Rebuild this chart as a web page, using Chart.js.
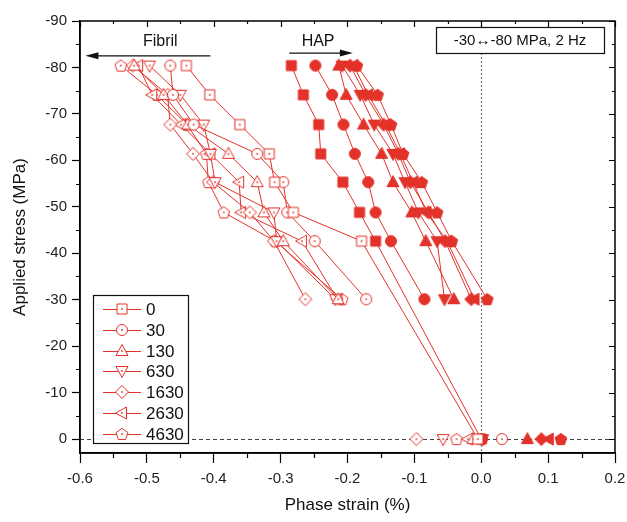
<!DOCTYPE html>
<html>
<head>
<meta charset="utf-8">
<script src="https://cdn.jsdelivr.net/npm/chart.js@4/dist/chart.umd.min.js"></script>
<style>
  html, body { margin: 0; padding: 0; background: #fff; }
  #chart { display: block; }
</style>
</head>
<body>
<canvas id="chart" width="627" height="522"></canvas>
<script>
// stress levels of the loading steps (MPa)
const stressLevels = [-80.4, -74.1, -67.7, -61.4, -55.3, -48.8, -42.6, -30.1];
const cycleLabels = ['0', '30', '130', '630', '1630', '2630', '4630'];

// fibril phase strain (%) at each stress level, one array per cycle count
const fibril0    = [-0.441, -0.406, -0.361, -0.317, -0.309, -0.281, -0.179, null];
const fibril30   = [-0.465, -0.461, -0.430, -0.335, -0.296, -0.290, -0.249, -0.172];
const fibril130  = [-0.519, -0.475, -0.439, -0.378, -0.335, -0.325, -0.296, -0.214];
const fibril630  = [-0.496, -0.450, -0.415, -0.405, -0.398, -0.310, -0.306, -0.218];
const fibril1630 = [-0.521, -0.469, -0.465, -0.431, -0.401, -0.346, -0.310, -0.263];
const fibril2630 = [-0.513, -0.492, -0.449, -0.405, -0.362, -0.359, -0.268, -0.215];
const fibril4630 = [-0.539, -0.485, -0.440, -0.411, -0.408, -0.385, -0.308, -0.208];

// HAP phase strain (%)
const hap0    = [-0.284, -0.266, -0.243, -0.240, -0.207, -0.182, -0.158, null];
const hap30   = [-0.248, -0.223, -0.206, -0.189, -0.169, -0.158, -0.135, -0.085];
const hap130  = [-0.213, -0.202, -0.176, -0.149, -0.132, -0.104, -0.083, -0.041];
const hap630  = [-0.208, -0.181, -0.160, -0.132, -0.114, -0.094, -0.066, -0.055];
const hap1630 = [-0.196, -0.173, -0.146, -0.124, -0.106, -0.079, -0.054, -0.015];
const hap2630 = [-0.191, -0.169, -0.143, -0.121, -0.102, -0.082, -0.051, -0.010];
const hap4630 = [-0.186, -0.155, -0.135, -0.117, -0.089, -0.066, -0.044, 0.009];

// strain at zero applied stress
const fibrilUnloaded = [-0.005, 0.031, -0.012, -0.057, -0.097, -0.020, -0.037];
const hapUnloaded    = [0.000, 0.001, 0.069, 0.002, 0.090, 0.101, 0.119];

const xTickValues = [-0.6, -0.55, -0.5, -0.45, -0.4, -0.35, -0.3, -0.25, -0.2, -0.15, -0.1, -0.05, 0, 0.05, 0.1, 0.15, 0.2];
const yTickValues = [-90, -85, -80, -75, -70, -65, -60, -55, -50, -45, -40, -35, -30, -25, -20, -15, -10, -5, 0];

const fibrilSeries = [fibril0, fibril30, fibril130, fibril630, fibril1630, fibril2630, fibril4630];
const hapSeries = [hap0, hap30, hap130, hap630, hap1630, hap2630, hap4630];
const shapes = ['square', 'circle', 'triUp', 'triDown', 'diamond', 'triLeft', 'pentagon'];

const RED = '#e2322a';
const FONT = '"Liberation Sans", Arial, sans-serif';

function shapePath(ctx, shape) {
    ctx.beginPath();
    if (shape == 'square') {
        ctx.rect(-5, -5, 10, 10);
    } else if (shape == 'circle') {
        ctx.arc(0, 0, 5.5, 0, Math.PI * 2);
    } else if (shape == 'triUp') {
        ctx.moveTo(0, -6.5); ctx.lineTo(6, 4.5); ctx.lineTo(-6, 4.5); ctx.closePath();
    } else if (shape == 'triDown') {
        ctx.moveTo(0, 6.5); ctx.lineTo(6, -4.5); ctx.lineTo(-6, -4.5); ctx.closePath();
    } else if (shape == 'diamond') {
        ctx.moveTo(0, -6.5); ctx.lineTo(6.5, 0); ctx.lineTo(0, 6.5); ctx.lineTo(-6.5, 0); ctx.closePath();
    } else if (shape == 'triLeft') {
        ctx.moveTo(-6.5, 0); ctx.lineTo(4.5, -6); ctx.lineTo(4.5, 6); ctx.closePath();
    } else if (shape == 'pentagon') {
        for (let k = 0; k < 5; k++) {
            let a = -Math.PI / 2 + k * 2 * Math.PI / 5;
            let px = 6.2 * Math.cos(a), py = 6.2 * Math.sin(a) + 0.5;
            if (k == 0) ctx.moveTo(px, py); else ctx.lineTo(px, py);
        }
        ctx.closePath();
    }
}

function makeMarker(shape, filled) {
    const c = document.createElement('canvas');
    c.width = 16; c.height = 16;
    const ctx = c.getContext('2d');
    ctx.translate(8, 8);
    shapePath(ctx, shape);
    if (filled) {
        ctx.fillStyle = RED;
        ctx.fill();
        ctx.strokeStyle = RED;
        ctx.lineWidth = 1;
        ctx.stroke();
    } else {
        ctx.fillStyle = '#fff';
        ctx.fill();
        ctx.strokeStyle = RED;
        ctx.lineWidth = 1;
        ctx.stroke();
        ctx.fillStyle = RED;
        ctx.fillRect(-0.8, -0.8, 1.6, 1.6);
    }
    return c;
}

const openMarkers = shapes.map(s => makeMarker(s, false));
const filledMarkers = shapes.map(s => makeMarker(s, true));

function buildPoints(values, unloaded, connectZero) {
    let pts = [];
    values.forEach((v, i) => {
        if (v !== null) pts.push({ x: v, y: stressLevels[i] });
    });
    if (!connectZero) pts.push({ x: unloaded, y: null });
    pts.push({ x: unloaded, y: 0 });
    return pts;
}

let datasets = [];
fibrilSeries.forEach((vals, i) => {
    datasets.push({
        label: cycleLabels[i],
        data: buildPoints(vals, fibrilUnloaded[i], i == 0),
        borderColor: RED,
        borderWidth: 1,
        pointStyle: openMarkers[i],
        spanGaps: false
    });
});
hapSeries.forEach((vals, i) => {
    datasets.push({
        label: cycleLabels[i] + ' HAP',
        data: buildPoints(vals, hapUnloaded[i], i == 0),
        borderColor: RED,
        borderWidth: 1,
        pointStyle: filledMarkers[i],
        spanGaps: false
    });
});

function isMajorX(v) { return Math.abs(v * 10 - Math.round(v * 10)) < 1e-6; }
function isMajorY(v) { return Math.abs(v % 10) < 1e-6; }

function drawArrow(ctx, x1, y1, x2, y2) {
    ctx.save();
    ctx.strokeStyle = '#111';
    ctx.fillStyle = '#111';
    ctx.lineWidth = 1.3;
    const dir = Math.sign(x2 - x1);
    ctx.beginPath();
    ctx.moveTo(x1, y1);
    ctx.lineTo(x2 - dir * 10, y2);
    ctx.stroke();
    ctx.beginPath();
    ctx.moveTo(x2, y2);
    ctx.lineTo(x2 - dir * 13, y2 - 3.5);
    ctx.lineTo(x2 - dir * 13, y2 + 3.5);
    ctx.closePath();
    ctx.fill();
    ctx.restore();
}

const decorPlugin = {
    id: 'decor',
    beforeDatasetsDraw(chart) {
        const ctx = chart.ctx;
        const area = chart.chartArea;
        const xs = chart.scales.x, ys = chart.scales.y;
        ctx.save();
        // vertical dotted line at zero strain
        ctx.strokeStyle = '#777';
        ctx.lineWidth = 1.2;
        ctx.setLineDash([2, 2]);
        let x0 = Math.round(xs.getPixelForValue(0)) + 0.5;
        ctx.beginPath();
        ctx.moveTo(x0, area.top);
        ctx.lineTo(x0, area.bottom);
        ctx.stroke();
        // horizontal dashed line at zero stress
        ctx.strokeStyle = '#444';
        ctx.lineWidth = 1;
        ctx.setLineDash([4, 3]);
        let y0 = Math.round(ys.getPixelForValue(0)) + 0.5;
        ctx.beginPath();
        ctx.moveTo(area.left, y0);
        ctx.lineTo(area.right, y0);
        ctx.stroke();
        ctx.restore();
    },
    afterDraw(chart) {
        const ctx = chart.ctx;
        const area = chart.chartArea;
        const xs = chart.scales.x, ys = chart.scales.y;
        ctx.save();
        // frame
        ctx.strokeStyle = '#000';
        ctx.lineWidth = 1.5;
        ctx.strokeRect(area.left, area.top, area.right - area.left, area.bottom - area.top);

        // minor ticks outside, and ticks inside on top / right
        ctx.lineWidth = 1.2;
        ctx.beginPath();
        xTickValues.forEach(v => {
            const px = Math.round(xs.getPixelForValue(v)) + 0.5;
            if (!isMajorX(v)) {
                ctx.moveTo(px, area.bottom); ctx.lineTo(px, area.bottom + 5);
            }
            const len = isMajorX(v) ? 6 : 3;
            ctx.moveTo(px, area.top); ctx.lineTo(px, area.top + len);
        });
        yTickValues.forEach(v => {
            const py = Math.round(ys.getPixelForValue(v)) + 0.5;
            if (!isMajorY(v)) {
                ctx.moveTo(area.left, py); ctx.lineTo(area.left - 4, py);
            }
            const len = isMajorY(v) ? 6 : 3;
            ctx.moveTo(area.right, py); ctx.lineTo(area.right - len, py);
        });
        ctx.stroke();

        // annotations
        ctx.fillStyle = '#111';
        ctx.font = '16px ' + FONT;
        ctx.textAlign = 'center';
        ctx.textBaseline = 'middle';
        ctx.fillText('Fibril', xs.getPixelForValue(-0.48), ys.getPixelForValue(-85.5));
        drawArrow(ctx, xs.getPixelForValue(-0.405), ys.getPixelForValue(-82.5), xs.getPixelForValue(-0.592), ys.getPixelForValue(-82.5));
        ctx.fillText('HAP', xs.getPixelForValue(-0.244), ys.getPixelForValue(-85.5));
        drawArrow(ctx, xs.getPixelForValue(-0.287), ys.getPixelForValue(-83.1), xs.getPixelForValue(-0.192), ys.getPixelForValue(-83.1));

        // condition box
        const bw = 168, bh = 26;
        const bx = area.right - 11 - bw, by = area.top + 6;
        ctx.fillStyle = '#fff';
        ctx.fillRect(bx, by, bw, bh);
        ctx.strokeStyle = '#111';
        ctx.lineWidth = 1.2;
        ctx.strokeRect(bx + 0.5, by + 0.5, bw, bh);
        ctx.fillStyle = '#111';
        ctx.font = '15px ' + FONT;
        ctx.fillText('-30\u2194-80 MPa, 2 Hz', bx + bw / 2, by + bh / 2 + 1);

        // legend
        const lx = area.left + 13, ly = area.top + 274, lw = 95, lh = 148;
        ctx.fillStyle = '#fff';
        ctx.fillRect(lx, ly, lw, lh);
        ctx.strokeStyle = '#111';
        ctx.lineWidth = 1.2;
        ctx.strokeRect(lx + 0.5, ly + 0.5, lw, lh);
        ctx.font = '17px ' + FONT;
        ctx.textAlign = 'left';
        cycleLabels.forEach((lab, i) => {
            const yy = Math.round(ly + 14 + i * 20.8) + 0.5;
            ctx.strokeStyle = RED;
            ctx.lineWidth = 1;
            ctx.beginPath();
            ctx.moveTo(lx + 10, yy);
            ctx.lineTo(lx + 48, yy);
            ctx.stroke();
            ctx.drawImage(openMarkers[i], lx + 29 - 8, yy - 8.5);
            ctx.fillStyle = '#111';
            ctx.fillText(lab, lx + 53, yy + 1);
        });
        ctx.restore();
    }
};

const chart = new Chart(document.getElementById('chart').getContext('2d'), {
    type: 'line',
    data: { datasets: datasets },
    options: {
        responsive: false,
        animation: false,
        events: [],
        devicePixelRatio: 1,
        layout: { padding: { top: 21, right: 12, left: 0, bottom: 0 } },
        elements: {
            point: { radius: 6 },
            line: { tension: 0 }
        },
        plugins: {
            legend: { display: false },
            tooltip: { enabled: false }
        },
        scales: {
            x: {
                type: 'linear',
                min: -0.6,
                max: 0.2,
                afterBuildTicks: (scale) => { scale.ticks = xTickValues.map(v => ({ value: v })); },
                afterFit: (scale) => {
                    scale.height = 69;
                    scale.paddingLeft = 0;
                    scale.paddingRight = 0;
                },
                ticks: {
                    autoSkip: false,
                    maxRotation: 0,
                    padding: 7,
                    color: '#222',
                    font: { family: FONT, size: 15 },
                    callback: (v) => isMajorX(v) ? v.toFixed(1) : ''
                },
                grid: {
                    drawOnChartArea: false,
                    tickLength: 10,
                    tickWidth: 1.2,
                    tickColor: (c) => (c.tick && isMajorX(c.tick.value)) ? '#000' : 'rgba(0,0,0,0)'
                },
                border: { color: '#000', width: 1.5 },
                title: {
                    display: true,
                    text: 'Phase strain (%)',
                    color: '#111',
                    font: { family: FONT, size: 17 },
                    padding: { top: 2, bottom: 6 }
                }
            },
            y: {
                type: 'linear',
                min: -90,
                max: 3,
                reverse: true,
                afterBuildTicks: (scale) => { scale.ticks = yTickValues.map(v => ({ value: v })); },
                afterFit: (scale) => {
                    scale.width = 80;
                    scale.paddingTop = 0;
                    scale.paddingBottom = 0;
                },
                ticks: {
                    autoSkip: false,
                    padding: 5,
                    color: '#222',
                    font: { family: FONT, size: 15 },
                    callback: (v) => isMajorY(v) ? String(v) : ''
                },
                grid: {
                    drawOnChartArea: false,
                    tickLength: 8,
                    tickWidth: 1.2,
                    tickColor: (c) => (c.tick && isMajorY(c.tick.value)) ? '#000' : 'rgba(0,0,0,0)'
                },
                border: { color: '#000', width: 1.5 },
                title: {
                    display: true,
                    text: 'Applied stress (MPa)',
                    color: '#111',
                    font: { family: FONT, size: 17 },
                    padding: { top: 10, bottom: 0 }
                }
            }
        }
    },
    plugins: [decorPlugin]
});
</script>
</body>
</html>
